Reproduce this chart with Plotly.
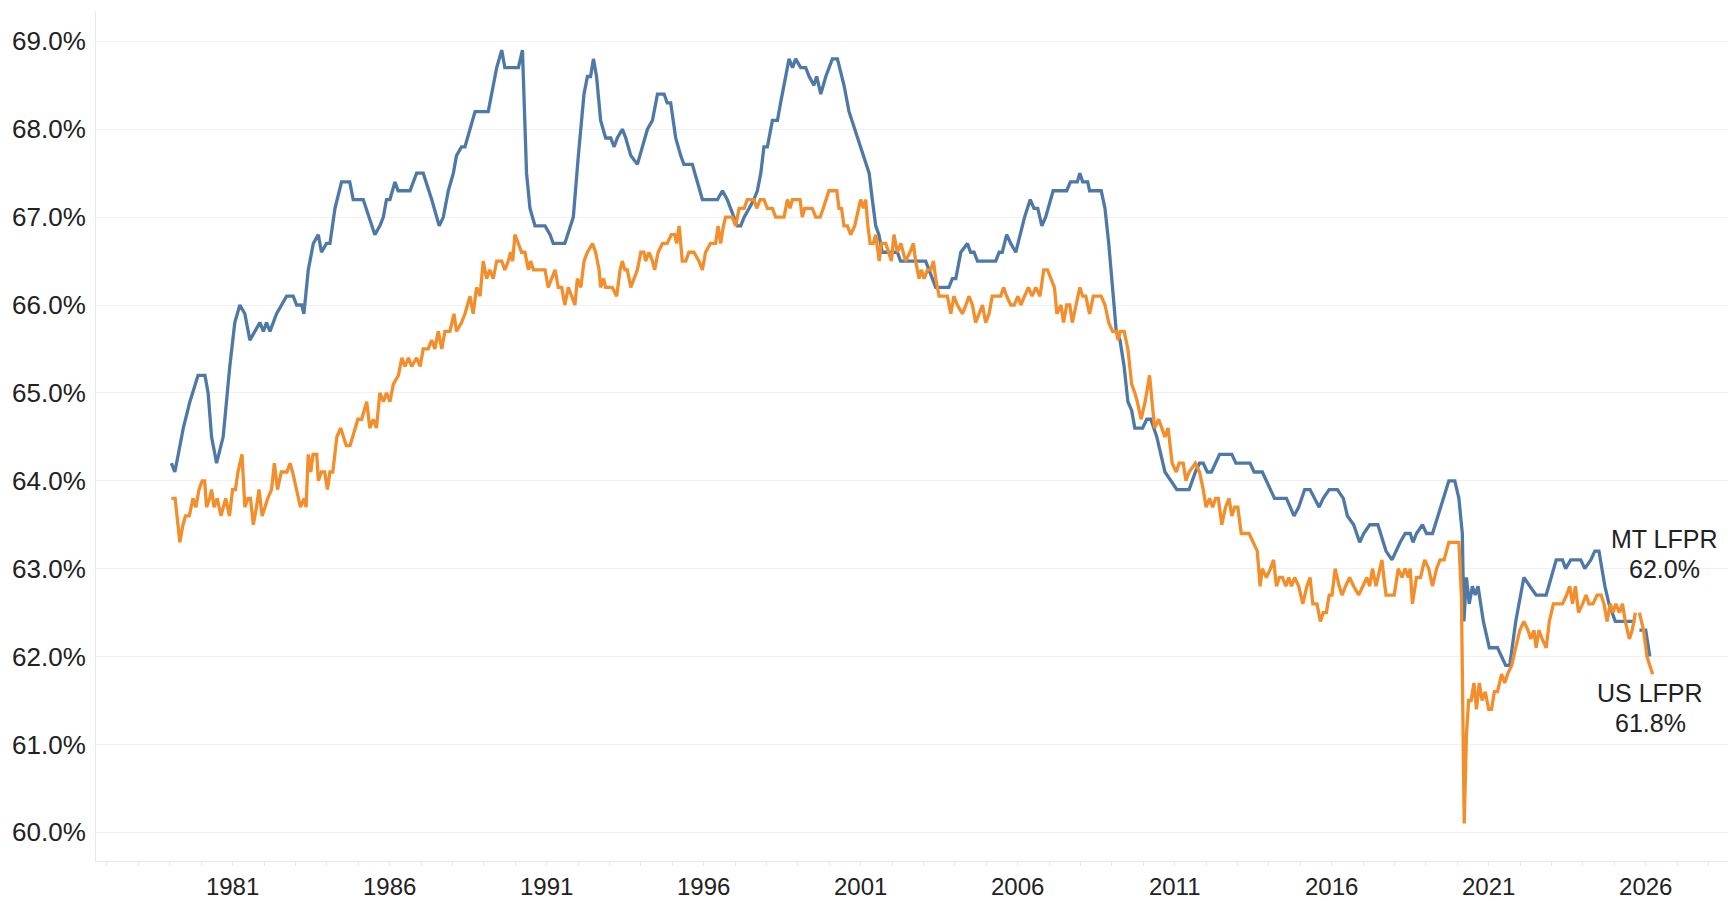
import plotly.graph_objects as go

# Montana labor force participation rate (decimal year, %)
mt_years = [
    1979.05, 1979.16, 1979.27, 1979.43, 1979.64, 1979.90, 1980.12, 1980.22, 1980.33, 1980.49,
    1980.70, 1980.91, 1981.07, 1981.23, 1981.39, 1981.55, 1981.71, 1981.87, 1981.98, 1982.08,
    1982.19, 1982.40, 1982.56, 1982.72, 1982.93, 1983.04, 1983.20, 1983.27, 1983.41, 1983.57,
    1983.73, 1983.83, 1983.99, 1984.10, 1984.26, 1984.47, 1984.73, 1984.84, 1985.16, 1985.53,
    1985.69, 1985.80, 1985.90, 1986.01, 1986.17, 1986.27, 1986.65, 1986.86, 1987.07, 1987.34,
    1987.58, 1987.71, 1987.87, 1988.03, 1988.13, 1988.29, 1988.40, 1988.72, 1989.14, 1989.25,
    1989.41, 1989.57, 1989.67, 1990.10, 1990.23, 1990.36, 1990.47, 1990.63, 1990.95, 1991.11,
    1991.21, 1991.58, 1991.85, 1992.01, 1992.19, 1992.30, 1992.40, 1992.49, 1992.59, 1992.72,
    1992.88, 1993.04, 1993.15, 1993.25, 1993.41, 1993.52, 1993.68, 1993.89, 1994.05, 1994.21,
    1994.37, 1994.53, 1994.74, 1994.84, 1994.95, 1995.11, 1995.27, 1995.37, 1995.64, 1995.80,
    1995.96, 1996.44, 1996.60, 1996.75, 1996.86, 1997.07, 1997.18, 1997.29, 1997.45, 1997.60,
    1997.71, 1997.82, 1997.92, 1998.03, 1998.19, 1998.35, 1998.45, 1998.56, 1998.72, 1998.83,
    1998.93, 1999.09, 1999.25, 1999.36, 1999.51, 1999.60, 1999.73, 1999.89, 2000.10, 2000.26,
    2000.47, 2000.63, 2001.00, 2001.27, 2001.37, 2001.48, 2001.58, 2001.69, 2002.17, 2002.27,
    2003.07, 2003.18, 2003.39, 2003.81, 2003.92, 2004.03, 2004.19, 2004.40, 2004.50, 2004.61,
    2004.72, 2005.30, 2005.41, 2005.51, 2005.65, 2005.78, 2005.94, 2006.01, 2006.22, 2006.40,
    2006.52, 2006.64, 2006.77, 2006.89, 2007.13, 2007.56, 2007.68, 2007.90, 2007.98, 2008.07,
    2008.23, 2008.29, 2008.66, 2008.78, 2008.90, 2009.02, 2009.14, 2009.26, 2009.39, 2009.51,
    2009.63, 2009.73, 2009.98, 2010.11, 2010.24, 2010.43, 2010.69, 2010.88, 2011.07, 2011.46,
    2011.66, 2011.79, 2011.91, 2012.04, 2012.17, 2012.30, 2012.43, 2012.82, 2012.95, 2013.40,
    2013.53, 2013.79, 2013.92, 2014.18, 2014.56, 2014.80, 2014.95, 2015.14, 2015.31, 2015.47,
    2015.60, 2015.73, 2015.92, 2016.18, 2016.37, 2016.50, 2016.70, 2016.89, 2017.02, 2017.21,
    2017.47, 2017.73, 2017.92, 2018.18, 2018.34, 2018.50, 2018.59, 2018.70, 2018.89, 2019.02,
    2019.21, 2019.47, 2019.73, 2019.92, 2020.05, 2020.16, 2020.21, 2020.29, 2020.38, 2020.48,
    2020.57, 2020.66, 2020.83, 2021.02, 2021.28, 2021.54, 2021.67, 2021.86, 2022.12, 2022.31,
    2022.51, 2022.83, 2023.15, 2023.35, 2023.45, 2023.61, 2023.93, 2024.06, 2024.25, 2024.38,
    2024.51, 2024.70, 2024.83, 2025.03, 2025.67, 2025.74, 2025.80, 2026.00, 2026.13,
]
mt_lfpr = [
    64.2, 64.1, 64.3, 64.6, 64.9, 65.2, 65.2, 65.0, 64.5, 64.2,
    64.5, 65.3, 65.8, 66.0, 65.9, 65.6, 65.7, 65.8, 65.7, 65.8,
    65.7, 65.9, 66.0, 66.1, 66.1, 66.0, 66.0, 65.9, 66.4, 66.7,
    66.8, 66.6, 66.7, 66.7, 67.1, 67.4, 67.4, 67.2, 67.2, 66.8,
    66.9, 67.0, 67.2, 67.2, 67.4, 67.3, 67.3, 67.5, 67.5, 67.2,
    66.9, 67.0, 67.3, 67.5, 67.7, 67.8, 67.8, 68.2, 68.2, 68.4,
    68.7, 68.9, 68.7, 68.7, 68.9, 67.5, 67.1, 66.9, 66.9, 66.8,
    66.7, 66.7, 67.0, 67.7, 68.4, 68.6, 68.6, 68.8, 68.6, 68.1,
    67.9, 67.9, 67.8, 67.9, 68.0, 67.9, 67.7, 67.6, 67.8, 68.0,
    68.1, 68.4, 68.4, 68.3, 68.3, 67.9, 67.7, 67.6, 67.6, 67.4,
    67.2, 67.2, 67.3, 67.2, 67.1, 66.9, 66.9, 67.0, 67.1, 67.2,
    67.3, 67.5, 67.8, 67.8, 68.1, 68.1, 68.3, 68.5, 68.8, 68.7,
    68.8, 68.7, 68.7, 68.6, 68.5, 68.6, 68.4, 68.6, 68.8, 68.8,
    68.5, 68.2, 67.8, 67.5, 67.2, 66.9, 66.8, 66.6, 66.6, 66.5,
    66.5, 66.4, 66.2, 66.2, 66.3, 66.3, 66.6, 66.7, 66.6, 66.6,
    66.5, 66.5, 66.6, 66.6, 66.8, 66.7, 66.6, 66.7, 67.0, 67.2,
    67.1, 67.1, 66.9, 67.0, 67.3, 67.3, 67.4, 67.4, 67.5, 67.4,
    67.4, 67.3, 67.3, 67.1, 66.7, 66.2, 65.7, 65.6, 65.3, 64.9,
    64.8, 64.6, 64.6, 64.7, 64.7, 64.5, 64.1, 64.0, 63.9, 63.9,
    64.1, 64.2, 64.2, 64.1, 64.1, 64.2, 64.3, 64.3, 64.2, 64.2,
    64.1, 64.1, 64.0, 63.8, 63.8, 63.6, 63.7, 63.9, 63.9, 63.8,
    63.7, 63.8, 63.9, 63.9, 63.8, 63.6, 63.5, 63.3, 63.4, 63.5,
    63.5, 63.2, 63.1, 63.3, 63.4, 63.4, 63.3, 63.4, 63.5, 63.4,
    63.4, 63.7, 64.0, 64.0, 63.8, 63.4, 62.4, 62.9, 62.6, 62.8,
    62.7, 62.8, 62.4, 62.1, 62.1, 61.9, 61.9, 62.4, 62.9, 62.8,
    62.7, 62.7, 63.1, 63.1, 63.0, 63.1, 63.1, 63.0, 63.1, 63.2,
    63.2, 62.8, 62.6, 62.4, 62.4, None, 62.3, 62.3, 62.0,
]

# United States labor force participation rate (decimal year, %)
us_years = [
    1979.05, 1979.17, 1979.26, 1979.32, 1979.42, 1979.50, 1979.62, 1979.68, 1979.74, 1979.83,
    1979.93, 1980.03, 1980.11, 1980.17, 1980.27, 1980.33, 1980.41, 1980.51, 1980.63, 1980.78,
    1980.90, 1981.00, 1981.09, 1981.17, 1981.30, 1981.39, 1981.49, 1981.57, 1981.66, 1981.76,
    1981.84, 1981.94, 1982.12, 1982.24, 1982.33, 1982.43, 1982.55, 1982.73, 1982.83, 1982.91,
    1983.04, 1983.16, 1983.28, 1983.34, 1983.41, 1983.49, 1983.56, 1983.68, 1983.73, 1983.83,
    1983.93, 1984.02, 1984.10, 1984.19, 1984.32, 1984.44, 1984.53, 1984.62, 1984.74, 1984.99,
    1985.11, 1985.27, 1985.37, 1985.48, 1985.58, 1985.69, 1985.80, 1985.90, 1986.01, 1986.12,
    1986.28, 1986.39, 1986.49, 1986.60, 1986.70, 1986.86, 1986.97, 1987.07, 1987.23, 1987.34,
    1987.44, 1987.55, 1987.66, 1987.76, 1987.92, 1988.05, 1988.13, 1988.29, 1988.40, 1988.56,
    1988.66, 1988.77, 1988.88, 1988.98, 1989.09, 1989.19, 1989.30, 1989.41, 1989.57, 1989.67,
    1989.78, 1989.85, 1989.92, 1989.99, 1990.10, 1990.20, 1990.31, 1990.42, 1990.49, 1990.58,
    1990.79, 1990.95, 1991.05, 1991.16, 1991.27, 1991.37, 1991.48, 1991.58, 1991.69, 1991.80,
    1991.90, 1991.98, 1992.09, 1992.19, 1992.30, 1992.46, 1992.56, 1992.67, 1992.72, 1992.81,
    1992.88, 1993.09, 1993.23, 1993.34, 1993.41, 1993.49, 1993.57, 1993.68, 1993.78, 1993.89,
    1994.00, 1994.10, 1994.15, 1994.26, 1994.37, 1994.44, 1994.55, 1994.69, 1994.84, 1994.97,
    1995.08, 1995.14, 1995.22, 1995.32, 1995.43, 1995.53, 1995.69, 1995.85, 1995.96, 1996.06,
    1996.22, 1996.38, 1996.46, 1996.54, 1996.63, 1996.70, 1996.91, 1997.02, 1997.13, 1997.29,
    1997.39, 1997.60, 1997.69, 1997.80, 1997.92, 1998.03, 1998.19, 1998.29, 1998.56, 1998.67,
    1998.75, 1998.83, 1999.07, 1999.14, 1999.22, 1999.46, 1999.57, 1999.71, 1999.81, 1999.89,
    1999.99, 2000.24, 2000.31, 2000.39, 2000.47, 2000.58, 2000.68, 2000.81, 2000.92, 2001.00,
    2001.09, 2001.16, 2001.23, 2001.30, 2001.40, 2001.48, 2001.59, 2001.66, 2001.80, 2001.90,
    2001.98, 2002.06, 2002.17, 2002.28, 2002.36, 2002.43, 2002.57, 2002.68, 2002.75, 2002.86,
    2002.93, 2003.02, 2003.13, 2003.23, 2003.32, 2003.39, 2003.50, 2003.66, 2003.76, 2003.87,
    2003.97, 2004.08, 2004.24, 2004.35, 2004.45, 2004.56, 2004.66, 2004.77, 2004.88, 2004.98,
    2005.09, 2005.19, 2005.46, 2005.55, 2005.65, 2005.78, 2005.89, 2006.01, 2006.10, 2006.22,
    2006.34, 2006.46, 2006.58, 2006.71, 2006.83, 2006.95, 2007.07, 2007.17, 2007.25, 2007.38,
    2007.46, 2007.56, 2007.66, 2007.74, 2007.86, 2007.98, 2008.07, 2008.17, 2008.29, 2008.41,
    2008.66, 2008.78, 2008.90, 2009.02, 2009.14, 2009.20, 2009.26, 2009.39, 2009.51, 2009.63,
    2009.73, 2009.81, 2009.93, 2010.06, 2010.20, 2010.36, 2010.49, 2010.58, 2010.69, 2010.79,
    2010.92, 2011.05, 2011.14, 2011.27, 2011.36, 2011.46, 2011.66, 2011.79, 2011.91, 2012.00,
    2012.11, 2012.21, 2012.30, 2012.39, 2012.50, 2012.62, 2012.73, 2012.82, 2012.91, 2013.01,
    2013.12, 2013.37, 2013.50, 2013.63, 2013.72, 2013.79, 2013.92, 2014.05, 2014.15, 2014.24,
    2014.33, 2014.43, 2014.54, 2014.63, 2014.72, 2014.82, 2014.95, 2015.08, 2015.21, 2015.31,
    2015.40, 2015.53, 2015.64, 2015.73, 2015.83, 2015.92, 2016.01, 2016.11, 2016.24, 2016.33,
    2016.44, 2016.57, 2016.70, 2016.86, 2016.99, 2017.12, 2017.21, 2017.30, 2017.41, 2017.53,
    2017.60, 2017.66, 2017.73, 2017.99, 2018.12, 2018.24, 2018.34, 2018.44, 2018.50, 2018.57,
    2018.70, 2018.83, 2018.96, 2019.09, 2019.21, 2019.34, 2019.45, 2019.58, 2019.73, 2020.05,
    2020.13, 2020.22, 2020.29, 2020.36, 2020.44, 2020.53, 2020.61, 2020.70, 2020.79, 2020.89,
    2021.00, 2021.09, 2021.18, 2021.28, 2021.41, 2021.51, 2021.60, 2021.73, 2021.86, 2021.99,
    2022.12, 2022.25, 2022.34, 2022.44, 2022.51, 2022.60, 2022.70, 2022.83, 2022.93, 2023.06,
    2023.35, 2023.48, 2023.58, 2023.67, 2023.76, 2023.86, 2023.99, 2024.10, 2024.19, 2024.32,
    2024.45, 2024.58, 2024.67, 2024.77, 2024.87, 2024.96, 2025.05, 2025.16, 2025.26, 2025.35,
    2025.48, 2025.57, 2025.67, 2025.74, 2025.80, 2025.93, 2026.04, 2026.22,
]
us_lfpr = [
    63.8, 63.8, 63.5, 63.3, 63.5, 63.6, 63.6, 63.7, 63.8, 63.7,
    63.9, 64.0, 64.0, 63.7, 63.8, 63.9, 63.7, 63.8, 63.6, 63.8,
    63.6, 63.9, 63.9, 64.1, 64.3, 63.7, 63.8, 63.8, 63.5, 63.7,
    63.9, 63.6, 63.8, 63.9, 64.2, 63.9, 64.1, 64.1, 64.2, 64.1,
    63.9, 63.7, 63.8, 63.7, 64.3, 64.1, 64.3, 64.3, 64.0, 64.1,
    64.1, 63.9, 64.1, 64.1, 64.5, 64.6, 64.5, 64.4, 64.4, 64.7,
    64.7, 64.9, 64.6, 64.7, 64.6, 65.0, 64.9, 65.0, 64.9, 65.1,
    65.2, 65.4, 65.3, 65.4, 65.3, 65.4, 65.3, 65.5, 65.5, 65.6,
    65.5, 65.7, 65.5, 65.7, 65.7, 65.9, 65.7, 65.8, 65.9, 66.1,
    65.9, 66.2, 66.1, 66.5, 66.3, 66.4, 66.3, 66.5, 66.5, 66.4,
    66.5, 66.6, 66.5, 66.8, 66.7, 66.6, 66.6, 66.4, 66.5, 66.4,
    66.4, 66.4, 66.2, 66.3, 66.4, 66.2, 66.2, 66.0, 66.2, 66.1,
    66.0, 66.3, 66.2, 66.5, 66.6, 66.7, 66.6, 66.4, 66.2, 66.3,
    66.2, 66.2, 66.1, 66.4, 66.5, 66.4, 66.4, 66.2, 66.3, 66.4,
    66.6, 66.6, 66.5, 66.6, 66.5, 66.4, 66.6, 66.7, 66.7, 66.8,
    66.8, 66.7, 66.9, 66.5, 66.5, 66.6, 66.6, 66.5, 66.4, 66.6,
    66.7, 66.7, 66.9, 66.7, 66.9, 67.0, 67.0, 66.9, 67.1, 67.1,
    67.2, 67.2, 67.1, 67.2, 67.2, 67.1, 67.1, 67.0, 67.0, 67.2,
    67.1, 67.2, 67.2, 67.0, 67.1, 67.1, 67.0, 67.0, 67.1, 67.2,
    67.3, 67.3, 67.1, 67.1, 66.9, 66.9, 66.8, 66.9, 67.1, 67.2,
    67.1, 67.2, 66.9, 66.7, 66.7, 66.8, 66.5, 66.7, 66.7, 66.6,
    66.5, 66.8, 66.6, 66.7, 66.6, 66.5, 66.6, 66.7, 66.5, 66.3,
    66.4, 66.3, 66.4, 66.4, 66.5, 66.3, 66.1, 66.1, 66.1, 65.9,
    66.1, 66.0, 65.9, 66.0, 66.1, 66.0, 65.8, 65.9, 66.0, 65.8,
    65.9, 66.1, 66.1, 66.2, 66.1, 66.0, 66.0, 66.1, 66.0, 66.1,
    66.2, 66.1, 66.2, 66.1, 66.4, 66.4, 66.3, 66.2, 65.9, 66.0,
    65.8, 66.0, 66.0, 65.8, 66.0, 66.2, 66.1, 66.1, 65.9, 66.1,
    66.1, 66.0, 65.8, 65.7, 65.7, 65.6, 65.7, 65.7, 65.5, 65.1,
    65.0, 64.9, 64.7, 64.9, 65.2, 64.6, 64.7, 64.6, 64.5, 64.6,
    64.2, 64.1, 64.2, 64.2, 64.0, 64.1, 64.2, 64.1, 63.9, 63.7,
    63.8, 63.7, 63.8, 63.8, 63.5, 63.7, 63.8, 63.6, 63.7, 63.7,
    63.4, 63.4, 63.3, 63.2, 62.8, 63.0, 62.9, 63.0, 63.1, 62.8,
    62.9, 62.9, 62.8, 62.9, 62.8, 62.9, 62.8, 62.6, 62.8, 62.9,
    62.6, 62.6, 62.4, 62.5, 62.5, 62.7, 62.7, 63.0, 62.8, 62.7,
    62.8, 62.9, 62.8, 62.7, 62.8, 62.9, 62.8, 63.0, 62.8, 63.0,
    63.1, 62.9, 62.7, 62.7, 63.0, 62.9, 63.0, 62.9, 63.0, 62.6,
    62.9, 62.9, 63.1, 63.0, 62.8, 63.0, 63.1, 63.1, 63.3, 63.3,
    62.7, 60.1, 61.1, 61.5, 61.5, 61.7, 61.4, 61.7, 61.5, 61.6,
    61.4, 61.4, 61.6, 61.6, 61.8, 61.7, 61.8, 61.9, 62.1, 62.3,
    62.4, 62.3, 62.2, 62.3, 62.1, 62.3, 62.2, 62.1, 62.4, 62.6,
    62.6, 62.7, 62.8, 62.6, 62.8, 62.5, 62.6, 62.7, 62.6, 62.6,
    62.7, 62.7, 62.6, 62.4, 62.6, 62.5, 62.6, 62.5, 62.6, 62.4,
    62.2, 62.3, 62.5, None, 62.5, 62.3, 62.0, 61.8,
]

tick_years = [1981, 1986, 1991, 1996, 2001, 2006, 2011, 2016, 2021, 2026]
pct_ticks = [60, 61, 62, 63, 64, 65, 66, 67, 68, 69]

BLUE = "#4e79a7"
ORANGE = "#f28e2b"
TEXT = "#222222"
FONT = "Liberation Sans, Arial, sans-serif"

fig = go.Figure()
fig.add_trace(go.Scatter(x=mt_years, y=mt_lfpr, name="MT LFPR", mode="lines",
                         line=dict(color=BLUE, width=3.3), connectgaps=False))
fig.add_trace(go.Scatter(x=us_years, y=us_lfpr, name="US LFPR", mode="lines",
                         line=dict(color=ORANGE, width=3.3), connectgaps=False))

# end labels
lab_font = dict(size=25, color=TEXT, family=FONT)
fig.add_annotation(x=2026.6, y=63.34, text="MT LFPR", showarrow=False, font=lab_font)
fig.add_annotation(x=2026.6, y=63.0, text=f"{mt_lfpr[-1]:.1f}%", showarrow=False, font=lab_font)
fig.add_annotation(x=2026.15, y=61.59, text="US LFPR", showarrow=False, font=lab_font)
fig.add_annotation(x=2026.15, y=61.24, text=f"{us_lfpr[-1]:.1f}%", showarrow=False, font=lab_font)

fig.update_layout(
    width=1736, height=901,
    margin=dict(l=96, r=8, t=11, b=40, autoexpand=False),
    paper_bgcolor="white", plot_bgcolor="white",
    showlegend=False,
    font=dict(family=FONT, color=TEXT),
)
fig.update_xaxes(
    range=[1976.65, 2028.62],
    tickvals=tick_years, ticktext=[str(t) for t in tick_years],
    tickfont=dict(size=24, color=TEXT),
    showgrid=False, zeroline=False,
    showline=True, linecolor="#e8e8e8", linewidth=1,
    ticks="outside", ticklen=4, tickcolor="#e8e8e8",
    minor=dict(dtick=1, ticks="outside", ticklen=4, tickcolor="#e8e8e8"),
)
fig.update_yaxes(
    range=[59.674, 69.345],
    tickvals=pct_ticks, ticktext=[f"{v:.1f}%" for v in pct_ticks],
    tickfont=dict(size=26, color=TEXT),
    showgrid=True, gridcolor="#f0f0f0", gridwidth=1,
    zeroline=False, showline=True, linecolor="#e8e8e8", linewidth=1,
    ticks="", ticklabelstandoff=4,
)

fig.write_html("out.html", config={"displayModeBar": False},
               post_script="document.body.style.margin='0';")
